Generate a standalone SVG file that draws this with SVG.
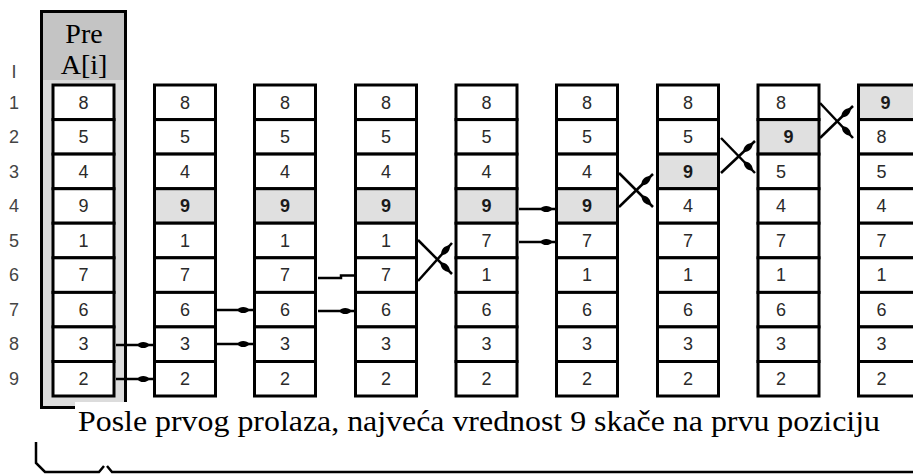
<svg xmlns="http://www.w3.org/2000/svg" width="913" height="475" viewBox="0 0 913 475">
  <style>
    .cell { fill: #ffffff; stroke: #000; stroke-width: 3; }
    .hot { fill: #e0e0e0; stroke: #000; stroke-width: 3; }
    .num { font-family: "Liberation Sans", Arial, sans-serif; font-size: 18px; fill: #2a2a2a; text-anchor: middle; }
    .num.b { font-weight: bold; fill: #1a1a1a; }
    .idx { font-family: "Liberation Sans", Arial, sans-serif; font-size: 18px; fill: #444; text-anchor: middle; }
    .serif { font-family: "Liberation Serif", "Times New Roman", serif; fill: #000; }
    .wire { fill: none; stroke: #000; stroke-width: 2.5; }
  </style>
  <defs>
    <marker id="blob" markerUnits="userSpaceOnUse" viewBox="0 0 17 9" refX="16" refY="4.5" markerWidth="17" markerHeight="9" orient="auto">
      <path d="M0,4.5 C3,0.5 9,0.3 13,4.5 C9,8.7 3,8.5 0,4.5 Z" fill="#000"/>
    </marker>
  </defs>

  <rect width="913" height="475" fill="#fff"/>

  <!-- row index column -->
  <g id="row-index">
    <text class="idx" x="14" y="78">I</text>
    <text class="idx" x="14" y="109">1</text>
    <text class="idx" x="14" y="143">2</text>
    <text class="idx" x="14" y="178">3</text>
    <text class="idx" x="14" y="212">4</text>
    <text class="idx" x="14" y="247">5</text>
    <text class="idx" x="14" y="281">6</text>
    <text class="idx" x="14" y="316">7</text>
    <text class="idx" x="14" y="350">8</text>
    <text class="idx" x="14" y="385">9</text>
  </g>

  <!-- initial array, framed -->
  <g id="col-0">
    <rect x="41.5" y="11.5" width="84" height="396" fill="#dcdcdc" stroke="#000" stroke-width="3"/>
    <rect x="43" y="13" width="81" height="67" fill="#c4c4c4"/>
    <text class="serif" x="84" y="43" font-size="28" text-anchor="middle">Pre</text>
    <text class="serif" x="84" y="74" font-size="28" text-anchor="middle">A[i]</text>
    <rect class="cell" x="53" y="85" width="61" height="34.6"/>
    <rect class="cell" x="53" y="119.6" width="61" height="34.5"/>
    <rect class="cell" x="53" y="154.1" width="61" height="34.6"/>
    <rect class="cell" x="53" y="188.7" width="61" height="34.5"/>
    <rect class="cell" x="53" y="223.2" width="61" height="34.6"/>
    <rect class="cell" x="53" y="257.8" width="61" height="34.6"/>
    <rect class="cell" x="53" y="292.4" width="61" height="34.5"/>
    <rect class="cell" x="53" y="326.9" width="61" height="34.6"/>
    <rect class="cell" x="53" y="361.5" width="61" height="34.5"/>
    <text class="num" x="83.5" y="109">8</text>
    <text class="num" x="83.5" y="143">5</text>
    <text class="num" x="83.5" y="178">4</text>
    <text class="num" x="83.5" y="212">9</text>
    <text class="num" x="83.5" y="247">1</text>
    <text class="num" x="83.5" y="281">7</text>
    <text class="num" x="83.5" y="316">6</text>
    <text class="num" x="83.5" y="350">3</text>
    <text class="num" x="83.5" y="385">2</text>
  </g>

  <g id="col-1" transform="translate(101.5,0)">
    <rect class="cell" x="53" y="85" width="61" height="34.6"/>
    <rect class="cell" x="53" y="119.6" width="61" height="34.5"/>
    <rect class="cell" x="53" y="154.1" width="61" height="34.6"/>
    <rect class="hot" x="53" y="188.7" width="61" height="34.5"/>
    <rect class="cell" x="53" y="223.2" width="61" height="34.6"/>
    <rect class="cell" x="53" y="257.8" width="61" height="34.6"/>
    <rect class="cell" x="53" y="292.4" width="61" height="34.5"/>
    <rect class="cell" x="53" y="326.9" width="61" height="34.6"/>
    <rect class="cell" x="53" y="361.5" width="61" height="34.5"/>
    <text class="num" x="83.5" y="109">8</text>
    <text class="num" x="83.5" y="143">5</text>
    <text class="num" x="83.5" y="178">4</text>
    <text class="num b" x="83.5" y="212">9</text>
    <text class="num" x="83.5" y="247">1</text>
    <text class="num" x="83.5" y="281">7</text>
    <text class="num" x="83.5" y="316">6</text>
    <text class="num" x="83.5" y="350">3</text>
    <text class="num" x="83.5" y="385">2</text>
  </g>

  <g id="col-2" transform="translate(201.5,0)">
    <rect class="cell" x="53" y="85" width="61" height="34.6"/>
    <rect class="cell" x="53" y="119.6" width="61" height="34.5"/>
    <rect class="cell" x="53" y="154.1" width="61" height="34.6"/>
    <rect class="hot" x="53" y="188.7" width="61" height="34.5"/>
    <rect class="cell" x="53" y="223.2" width="61" height="34.6"/>
    <rect class="cell" x="53" y="257.8" width="61" height="34.6"/>
    <rect class="cell" x="53" y="292.4" width="61" height="34.5"/>
    <rect class="cell" x="53" y="326.9" width="61" height="34.6"/>
    <rect class="cell" x="53" y="361.5" width="61" height="34.5"/>
    <text class="num" x="83.5" y="109">8</text>
    <text class="num" x="83.5" y="143">5</text>
    <text class="num" x="83.5" y="178">4</text>
    <text class="num b" x="83.5" y="212">9</text>
    <text class="num" x="83.5" y="247">1</text>
    <text class="num" x="83.5" y="281">7</text>
    <text class="num" x="83.5" y="316">6</text>
    <text class="num" x="83.5" y="350">3</text>
    <text class="num" x="83.5" y="385">2</text>
  </g>

  <g id="col-3" transform="translate(302.5,0)">
    <rect class="cell" x="53" y="85" width="61" height="34.6"/>
    <rect class="cell" x="53" y="119.6" width="61" height="34.5"/>
    <rect class="cell" x="53" y="154.1" width="61" height="34.6"/>
    <rect class="hot" x="53" y="188.7" width="61" height="34.5"/>
    <rect class="cell" x="53" y="223.2" width="61" height="34.6"/>
    <rect class="cell" x="53" y="257.8" width="61" height="34.6"/>
    <rect class="cell" x="53" y="292.4" width="61" height="34.5"/>
    <rect class="cell" x="53" y="326.9" width="61" height="34.6"/>
    <rect class="cell" x="53" y="361.5" width="61" height="34.5"/>
    <text class="num" x="83.5" y="109">8</text>
    <text class="num" x="83.5" y="143">5</text>
    <text class="num" x="83.5" y="178">4</text>
    <text class="num b" x="83.5" y="212">9</text>
    <text class="num" x="83.5" y="247">1</text>
    <text class="num" x="83.5" y="281">7</text>
    <text class="num" x="83.5" y="316">6</text>
    <text class="num" x="83.5" y="350">3</text>
    <text class="num" x="83.5" y="385">2</text>
  </g>

  <g id="col-4" transform="translate(403,0)">
    <rect class="cell" x="53" y="85" width="61" height="34.6"/>
    <rect class="cell" x="53" y="119.6" width="61" height="34.5"/>
    <rect class="cell" x="53" y="154.1" width="61" height="34.6"/>
    <rect class="hot" x="53" y="188.7" width="61" height="34.5"/>
    <rect class="cell" x="53" y="223.2" width="61" height="34.6"/>
    <rect class="cell" x="53" y="257.8" width="61" height="34.6"/>
    <rect class="cell" x="53" y="292.4" width="61" height="34.5"/>
    <rect class="cell" x="53" y="326.9" width="61" height="34.6"/>
    <rect class="cell" x="53" y="361.5" width="61" height="34.5"/>
    <text class="num" x="83.5" y="109">8</text>
    <text class="num" x="83.5" y="143">5</text>
    <text class="num" x="83.5" y="178">4</text>
    <text class="num b" x="83.5" y="212">9</text>
    <text class="num" x="83.5" y="247">7</text>
    <text class="num" x="83.5" y="281">1</text>
    <text class="num" x="83.5" y="316">6</text>
    <text class="num" x="83.5" y="350">3</text>
    <text class="num" x="83.5" y="385">2</text>
  </g>

  <g id="col-5" transform="translate(503.5,0)">
    <rect class="cell" x="53" y="85" width="61" height="34.6"/>
    <rect class="cell" x="53" y="119.6" width="61" height="34.5"/>
    <rect class="cell" x="53" y="154.1" width="61" height="34.6"/>
    <rect class="hot" x="53" y="188.7" width="61" height="34.5"/>
    <rect class="cell" x="53" y="223.2" width="61" height="34.6"/>
    <rect class="cell" x="53" y="257.8" width="61" height="34.6"/>
    <rect class="cell" x="53" y="292.4" width="61" height="34.5"/>
    <rect class="cell" x="53" y="326.9" width="61" height="34.6"/>
    <rect class="cell" x="53" y="361.5" width="61" height="34.5"/>
    <text class="num" x="83.5" y="109">8</text>
    <text class="num" x="83.5" y="143">5</text>
    <text class="num" x="83.5" y="178">4</text>
    <text class="num b" x="83.5" y="212">9</text>
    <text class="num" x="83.5" y="247">7</text>
    <text class="num" x="83.5" y="281">1</text>
    <text class="num" x="83.5" y="316">6</text>
    <text class="num" x="83.5" y="350">3</text>
    <text class="num" x="83.5" y="385">2</text>
  </g>

  <g id="col-6" transform="translate(604.5,0)">
    <rect class="cell" x="53" y="85" width="61" height="34.6"/>
    <rect class="cell" x="53" y="119.6" width="61" height="34.5"/>
    <rect class="hot" x="53" y="154.1" width="61" height="34.6"/>
    <rect class="cell" x="53" y="188.7" width="61" height="34.5"/>
    <rect class="cell" x="53" y="223.2" width="61" height="34.6"/>
    <rect class="cell" x="53" y="257.8" width="61" height="34.6"/>
    <rect class="cell" x="53" y="292.4" width="61" height="34.5"/>
    <rect class="cell" x="53" y="326.9" width="61" height="34.6"/>
    <rect class="cell" x="53" y="361.5" width="61" height="34.5"/>
    <text class="num" x="83.5" y="109">8</text>
    <text class="num" x="83.5" y="143">5</text>
    <text class="num b" x="83.5" y="178">9</text>
    <text class="num" x="83.5" y="212">4</text>
    <text class="num" x="83.5" y="247">7</text>
    <text class="num" x="83.5" y="281">1</text>
    <text class="num" x="83.5" y="316">6</text>
    <text class="num" x="83.5" y="350">3</text>
    <text class="num" x="83.5" y="385">2</text>
  </g>

  <g id="col-7" transform="translate(705,0)">
    <rect class="cell" x="53" y="85" width="61" height="34.6"/>
    <rect class="hot" x="53" y="119.6" width="61" height="34.5"/>
    <rect class="cell" x="53" y="154.1" width="61" height="34.6"/>
    <rect class="cell" x="53" y="188.7" width="61" height="34.5"/>
    <rect class="cell" x="53" y="223.2" width="61" height="34.6"/>
    <rect class="cell" x="53" y="257.8" width="61" height="34.6"/>
    <rect class="cell" x="53" y="292.4" width="61" height="34.5"/>
    <rect class="cell" x="53" y="326.9" width="61" height="34.6"/>
    <rect class="cell" x="53" y="361.5" width="61" height="34.5"/>
    <text class="num" x="76" y="109">8</text>
    <text class="num b" x="83.5" y="143">9</text>
    <text class="num" x="76" y="178">5</text>
    <text class="num" x="76" y="212">4</text>
    <text class="num" x="76" y="247">7</text>
    <text class="num" x="76" y="281">1</text>
    <text class="num" x="76" y="316">6</text>
    <text class="num" x="76" y="350">3</text>
    <text class="num" x="76" y="385">2</text>
  </g>

  <g id="col-8" transform="translate(805.5,0)">
    <rect class="hot" x="53" y="85" width="61" height="34.6"/>
    <rect class="cell" x="53" y="119.6" width="61" height="34.5"/>
    <rect class="cell" x="53" y="154.1" width="61" height="34.6"/>
    <rect class="cell" x="53" y="188.7" width="61" height="34.5"/>
    <rect class="cell" x="53" y="223.2" width="61" height="34.6"/>
    <rect class="cell" x="53" y="257.8" width="61" height="34.6"/>
    <rect class="cell" x="53" y="292.4" width="61" height="34.5"/>
    <rect class="cell" x="53" y="326.9" width="61" height="34.6"/>
    <rect class="cell" x="53" y="361.5" width="61" height="34.5"/>
    <text class="num b" x="80" y="109">9</text>
    <text class="num" x="76" y="143">8</text>
    <text class="num" x="76" y="178">5</text>
    <text class="num" x="76" y="212">4</text>
    <text class="num" x="76" y="247">7</text>
    <text class="num" x="76" y="281">1</text>
    <text class="num" x="76" y="316">6</text>
    <text class="num" x="76" y="350">3</text>
    <text class="num" x="76" y="385">2</text>
  </g>

  <!-- moves between passes -->
  <g id="connectors">
    <path class="wire" d="M116,345 H153" marker-end="url(#blob)"/>
    <path class="wire" d="M116,379 H153" marker-end="url(#blob)"/>
    <path class="wire" d="M217,310 H253" marker-end="url(#blob)"/>
    <path class="wire" d="M217,344 H253" marker-end="url(#blob)"/>
    <path class="wire" d="M318,278 H341 V275.5 H355"/>
    <path class="wire" d="M318,311 H355" marker-end="url(#blob)"/>
    <path class="wire" d="M418,240 L452,274" marker-end="url(#blob)"/>
    <path class="wire" d="M418,281 L452,243" marker-end="url(#blob)"/>
    <path class="wire" d="M519,209 H556" marker-end="url(#blob)"/>
    <path class="wire" d="M519,242 H556" marker-end="url(#blob)"/>
    <path class="wire" d="M619,173 L653,207" marker-end="url(#blob)"/>
    <path class="wire" d="M619,207 L653,174" marker-end="url(#blob)"/>
    <path class="wire" d="M721,138 L755,173" marker-end="url(#blob)"/>
    <path class="wire" d="M721,173 L755,141" marker-end="url(#blob)"/>
    <path class="wire" d="M820,103 L853,138" marker-end="url(#blob)"/>
    <path class="wire" d="M820,138 L853,106" marker-end="url(#blob)"/>
  </g>

  <!-- caption -->
  <g id="caption">
    <rect x="75" y="402" width="830" height="40" fill="#fff"/>
    <text class="serif" x="78" y="431" font-size="29" textLength="802" lengthAdjust="spacingAndGlyphs">Posle prvog prolaza, najveća vrednost 9 skače na prvu poziciju</text>
  </g>

  <!-- brace under the passes -->
  <path id="brace" class="wire" stroke-width="3" d="M36,442 V463 L45,472 H99 L104,466 M107,466 L112,472 H913"/>
</svg>
